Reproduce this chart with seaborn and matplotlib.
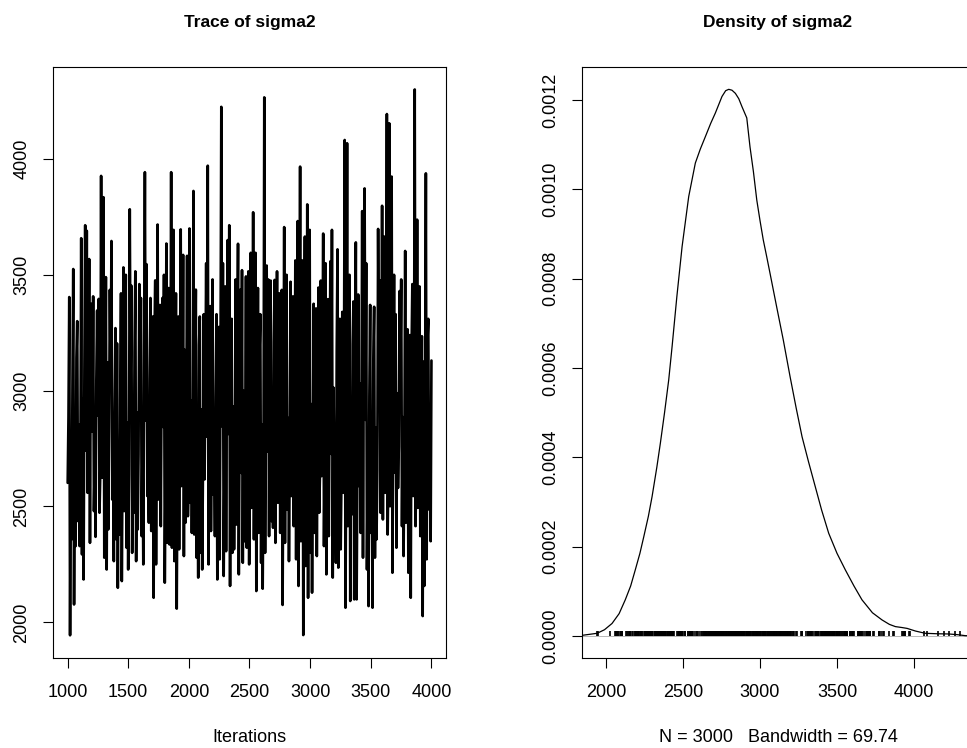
import numpy as np
import pandas as pd
import seaborn as sns
import matplotlib
matplotlib.use("Agg")
import matplotlib.pyplot as plt

# sigma2 trace (spikes up, spikes down, band values between)
sigma2 = [
    2602, 2884, 3404, 1944, 2712, 2358, 3017, 3525, 2077, 2796, 2329, 3142, 3300, 2437, 2853, 2329,
    2668, 3658, 2293, 2967, 2185, 3089, 3714, 2741, 3690, 2559, 2926, 3568, 2343, 3188, 3375, 2824,
    3407, 2480, 2703, 2369, 3046, 3346, 2893, 3396, 2473, 2652, 3927, 2624, 2978, 3835, 2279, 2765,
    3490, 2228, 3121, 2401, 2837, 3435, 3063, 3646, 2530, 2689, 2264, 2915, 3270, 2358, 3204, 2149,
    2779, 2379, 2948, 3420, 2178, 2731, 3532, 2480, 3105, 3500, 2322, 2862, 2228, 2641, 3783, 3029,
    3453, 2300, 2807, 2473, 3167, 3515, 2264, 2906, 2401, 2724, 3460, 2993, 3400, 2372, 2756, 2250,
    3138, 3943, 2871, 3546, 2545, 2677, 2430, 3052, 3400, 2394, 2818, 3320, 2106, 3219, 3476, 2250,
    2937, 3717, 2530, 2695, 3370, 2415, 3076, 3400, 2843, 3500, 2171, 2661, 3635, 2343, 2985, 3443,
    2336, 2749, 3943, 2322, 3113, 3694, 2264, 2898, 3420, 2059, 2716, 3320, 2315, 3008, 3696, 2588,
    2787, 3586, 2286, 3176, 2430, 2859, 3582, 2458, 2634, 3700, 2516, 2956, 2386, 2773, 3862, 2379,
    3094, 3436, 2279, 2829, 2193, 3197, 3320, 2300, 2919, 2228, 2683, 3330, 2617, 3035, 3550, 2801,
    3971, 2250, 3151, 3365, 2394, 2877, 3480, 2552, 2708, 2372, 2972, 3330, 2185, 2745, 3275, 2272,
    3127, 4225, 2846, 3550, 2200, 2659, 3450, 2307, 3059, 3650, 2813, 3714, 2157, 3183, 3310, 2300,
    2931, 2315, 2697, 3480, 2422, 3084, 3634, 2207, 2868, 3436, 2645, 3520, 2257, 2999, 2350, 2762,
    3493, 2322, 3110, 3515, 2250, 2889, 3595, 2494, 2721, 3770, 2358, 3021, 3595, 2135, 2792, 3443,
    2386, 3160, 3330, 2257, 2855, 2145, 2672, 4266, 2300, 2962, 3540, 2737, 3480, 2372, 3131, 3475,
    2437, 2834, 2408, 3211, 3478, 2343, 2910, 3515, 2516, 2686, 3420, 2386, 3042, 3435, 2075, 2808,
    3706, 2343, 3146, 3500, 2487, 2882, 2264, 2701, 3470, 2545, 2981, 3407, 2415, 2753, 3562, 2272,
    3118, 3732, 2157, 2849, 3967, 2350, 2666, 3562, 1945, 3068, 3665, 2243, 2821, 3804, 2106, 3192,
    3694, 2300, 2942, 2128, 2692, 3375, 2386, 3080, 3355, 2286, 2864, 3445, 2473, 2649, 3475, 2631,
    3003, 3678, 2329, 2769, 3550, 2207, 3099, 3395, 2372, 2894, 3558, 2727, 3694, 2193, 3013, 2566,
    2783, 2257, 3172, 3610, 2236, 2851, 3310, 2315, 2638, 3340, 2559, 2952, 4082, 2063, 2778, 4068,
    2415, 3090, 3500, 2092, 2826, 2466, 3201, 3385, 2099, 2923, 3640, 2099, 2680, 3415, 2588, 3031,
    2386, 2804, 3775, 2279, 3156, 3873, 2874, 3550, 2228, 2714, 2070, 2976, 3370, 2386, 2743, 2063,
    3134, 3362, 2279, 2841, 2358, 2655, 3698, 3055, 3476, 2473, 2816, 3798, 2444, 3179, 3665, 2559,
    2934, 4194, 2379, 2699, 4154, 2501, 3071, 3924, 2214, 2861, 3500, 2647, 3330, 2322, 2989, 2580,
    2758, 3430, 3106, 3480, 2415, 2886, 2286, 2719, 3603, 2430, 3025, 3265, 2214, 2797, 3240, 2106,
    3165, 3460, 2545, 2857, 4300, 2415, 2675, 3738, 2494, 2958, 3450, 2372, 2733, 3235, 2027, 3125,
    2157, 2838, 3938, 2272, 3215, 3310, 2487, 2913, 2350, 3130,
]
iterations = np.linspace(1001, 4000, len(sigma2))

# density curve
dens_x = [1846, 1942, 1990, 2039, 2085, 2125, 2160, 2190, 2220, 2245, 2275, 2299, 2330,
          2353, 2380, 2407, 2429, 2460, 2494, 2537, 2580, 2612, 2645, 2680, 2710, 2753,
          2777, 2797, 2818, 2840, 2862, 2883, 2914, 2935, 2957, 2979, 3000, 3021, 3043,
          3065, 3108, 3151, 3195, 3235, 3273, 3315, 3359, 3400, 3446, 3500, 3554, 3610,
          3662, 3730, 3792, 3840, 3879, 3920, 3955, 4010, 4073, 4150, 4225, 4280, 4333, 4396]
dens_y = [0.0000015, 0.000006, 0.000014, 0.000028, 0.000050, 0.000081, 0.000112, 0.000148,
          0.000185, 0.000222, 0.000268, 0.000312, 0.000378, 0.000432, 0.000500, 0.000573,
          0.000648, 0.000760, 0.000872, 0.000984, 0.001059, 0.001090, 0.001118, 0.001148,
          0.001171, 0.001208, 0.001221, 0.001224, 0.001222, 0.001215, 0.001203, 0.001185,
          0.001160, 0.001095, 0.001040, 0.000976, 0.000930, 0.000887, 0.000850, 0.000812,
          0.000737, 0.000663, 0.000581, 0.000510, 0.000446, 0.000390, 0.000334, 0.000282,
          0.000230, 0.000185, 0.000148, 0.000112, 0.000081, 0.000052, 0.000036, 0.000026,
          0.000021, 0.000019, 0.000017, 0.000011, 0.000006, 0.000005, 0.0000045, 0.000003,
          0.0000007, 0.0000003]

trace_xticks = [1000, 1500, 2000, 2500, 3000, 3500, 4000]
trace_yticks = [2000, 2500, 3000, 3500, 4000]
dens_xticks = [2000, 2500, 3000, 3500, 4000]
dens_yticks = [0.0, 0.0002, 0.0004, 0.0006, 0.0008, 0.0010, 0.0012]
dens_ylabels = ["0.0000", "0.0002", "0.0004", "0.0006", "0.0008", "0.0010", "0.0012"]

sns.set_theme(style="ticks")
plt.rcParams['font.family'] = ['Liberation Sans', 'DejaVu Sans']
plt.rcParams['text.color'] = 'black'
plt.rcParams['axes.edgecolor'] = 'black'
plt.rcParams['axes.linewidth'] = 0.8
plt.rcParams['path.simplify'] = False  # keep every zig-zag of the trace

W, H = 967, 748
fig = plt.figure(figsize=(W / 100, H / 100), dpi=100)
ax1 = fig.add_axes([53 / W, 90 / H, 393 / W, 591 / H])
ax2 = fig.add_axes([582 / W, 90 / H, 393 / W, 591 / H])

trace = pd.DataFrame({"Iterations": iterations, "sigma2": sigma2})
sns.lineplot(data=trace, x="Iterations", y="sigma2", ax=ax1, color="black",
             lw=1.9, estimator=None, sort=False)
ax1.set_xlim(880, 4120)
ax1.set_ylim(1846, 4397)
ax1.set_xticks(trace_xticks)
ax1.set_yticks(trace_yticks)
ax1.set_xlabel("")
ax1.set_ylabel("")

dens = pd.DataFrame({"x": dens_x, "y": dens_y})
ax2.axhline(0, color="gray", lw=0.4)
sns.lineplot(data=dens, x="x", y="y", ax=ax2, color="black", lw=0.9)
ax2.vlines(sigma2, -0.000001, max(dens_y) / 100, color="black", lw=1.2)
ax2.set_xlim(1844, 4396)
ax2.set_ylim(-0.0000493, 0.001274)
ax2.set_xticks(dens_xticks)
ax2.set_yticks(dens_yticks)
ax2.set_yticklabels(dens_ylabels)
ax2.set_xlabel("")
ax2.set_ylabel("")

for ax in (ax1, ax2):
    for s in ax.spines.values():
        s.set_visible(True)
        s.set_color("black")
        s.set_linewidth(0.8)
    ax.tick_params(axis="both", direction="out", length=7.2, width=0.8,
                   colors="black", labelsize=13)
    ax.tick_params(axis="x", pad=11.5)
    ax.tick_params(axis="y", pad=9, labelrotation=90)
    for lab in ax.get_yticklabels():
        lab.set_va("center")

fig.text(249.5 / W, 1 - 22 / H, "Trace of sigma2", ha="center", va="center",
         fontsize=12.5, fontweight="bold")
fig.text(778 / W, 1 - 22 / H, "Density of sigma2", ha="center", va="center",
         fontsize=12.5, fontweight="bold")
fig.text(249.5 / W, 1 - 737 / H, "Iterations", ha="center", va="center", fontsize=13)
fig.text(778 / W, 1 - 737 / H, "N = 3000   Bandwidth = 69.74", ha="center",
         va="center", fontsize=13)

fig.savefig("out.png", dpi=100)
